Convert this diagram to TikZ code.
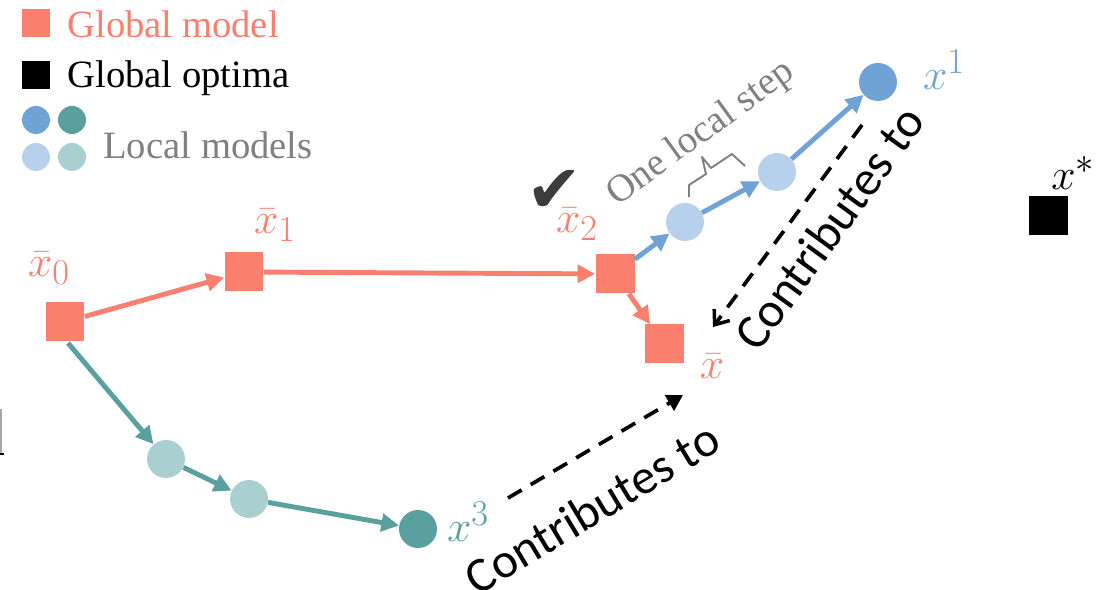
\documentclass[tikz,border=0pt]{standalone}
\usepackage{fontspec}
\setmainfont{Liberation Serif}
\newfontfamily\calib{Carlito}
\newfontfamily\symfont{DejaVu Sans}
\usetikzlibrary{arrows.meta,calc}

\definecolor{salmon}{HTML}{FA7F6F}
\definecolor{dblue}{HTML}{6FA3D6}
\definecolor{lblue}{HTML}{B7D1EC}
\definecolor{dteal}{HTML}{5AA09F}
\definecolor{lteal}{HTML}{AACFD0}
\definecolor{txtgray}{HTML}{808080}
\definecolor{checkgray}{HTML}{3C3C3C}

\tikzset{
  gsq/.style={fill=salmon, minimum size=0.78cm, inner sep=0pt},
  osq/.style={fill=black, minimum size=0.78cm, inner sep=0pt},
  lsq/.style={minimum size=0.56cm, inner sep=0pt},
  ldot/.style={circle, minimum size=0.56cm, inner sep=0pt},
  mdot/.style={circle, minimum size=0.76cm, inner sep=0pt},
  legtxt/.style={anchor=west, inner sep=0pt, font=\fontsize{22}{26}\selectfont},
  mlabel/.style={inner sep=0pt, font=\fontsize{28}{32}\selectfont},
  ctxt/.style={inner sep=0pt, font=\calib\fontsize{28}{32}\selectfont},
  harrow/.style={line width=2.8pt, -{Triangle[length=10pt,width=10pt]}},
  garrow/.style={harrow, draw=salmon},
  barrow/.style={harrow, draw=dblue},
  tarrow/.style={harrow, draw=dteal},
  dasharrow/.style={line width=2.1pt, dash pattern=on 9pt off 6pt},
}

\begin{document}
\begin{tikzpicture}[x=0.02cm, y=-0.02cm]
  \useasboundingbox (0,0) rectangle (1119,590);

  % legend
  \node[lsq, fill=salmon] (legG) at (36,23) {};
  \node[legtxt, text=salmon] (legGt) at (67,24) {Global model};
  \node[lsq, fill=black] (legO) at (36,75) {};
  \node[legtxt] (legOt) at (67,78) {Global optima};
  \node[ldot, fill=dblue] (legB1) at (36,120) {};
  \node[ldot, fill=dteal] (legT1) at (72,120) {};
  \node[ldot, fill=lblue] (legB2) at (36,157) {};
  \node[ldot, fill=lteal] (legT2) at (72,157) {};
  \node[legtxt, text=txtgray] (legLt) at (103,145) {Local models};

  % global models
  \node[gsq] (x0) at (65,322) {};
  \node[gsq] (x1) at (244,272) {};
  \node[gsq] (x2) at (615,274) {};
  \node[gsq] (xb) at (664,344) {};
  \node[osq] (xs) at (1048,216) {};

  \node[mlabel, text=salmon] (lx0) at (49,268) {$\bar{x}_0$};
  \node[mlabel, text=salmon] (lx1) at (275,225) {$\bar{x}_1$};
  \node[mlabel, text=salmon] (lx2) at (577,224) {$\bar{x}_2$};
  \node[mlabel, text=salmon] (lxb) at (712,366) {$\bar{x}$};
  \node[mlabel] (lxs) at (1073,173) {$x^*$};

  \node[inner sep=0pt, text=checkgray, font=\symfont\fontsize{38}{42}\selectfont] (chk) at (554,191) {✔};

  % local models of client 1
  \node[mdot, fill=lblue] (b1) at (685,222) {};
  \node[mdot, fill=lblue] (b2) at (777,172) {};
  \node[mdot, fill=dblue] (b3) at (878,82) {};
  \node[mlabel, text=dblue] (lb3) at (944,70) {$x^1$};

  % local models of client 3
  \node[mdot, fill=lteal] (t1) at (166,459) {};
  \node[mdot, fill=lteal] (t2) at (249,499) {};
  \node[mdot, fill=dteal] (t3) at (418,529) {};
  \node[mlabel, text=dteal] (lt3) at (468,522) {$x^3$};

  % global trajectory
  \draw[garrow] (x0) -- (x1);
  \draw[garrow] (x1) -- (x2);
  \draw[garrow] (x2) -- (xb);

  % client 1 trajectory
  \draw[barrow] (x2) -- (b1);
  \draw[barrow] (b1) -- (b2);
  \draw[barrow] (b2) -- (b3);

  % client 3 trajectory
  \coordinate (x0s) at (68,343);
  \draw[tarrow] (x0s) -- (t1);
  \draw[tarrow] (t1) -- (t2);
  \draw[tarrow] (t2) -- (t3);

  % one local step bracket
  \draw[txtgray, line width=1.1pt, line join=round]
    (689,197) -- (689,185) -- (706,174) -- (702,157) -- (711,168) -- (732,154) -- (745,166);
  \node[inner sep=0pt, text=txtgray, rotate=36, font=\fontsize{22}{26}\selectfont] (step) at (701,134) {One local step};

  % aggregation arrows
  \coordinate (c1s) at (862,125);
  \coordinate (c1e) at (713,327);
  \coordinate (c3s) at (508,498);
  \coordinate (c3e) at (683,395);
  \draw[dasharrow, -{Straight Barb[length=7pt,width=11pt,line width=2pt]}] (c1s) -- (c1e);
  \draw[dasharrow, -{Triangle[length=9pt,width=10pt]}] (c3s) -- (c3e);
  \node[ctxt, rotate=54] (ct1) at (829,228) {Contributes to};
  \node[ctxt, rotate=31] (ct3) at (592,508) {Contributes to};

  % edge fragment
  \draw[gray!70, line width=0.6pt] (1,409) -- (1,453);
  \draw[line width=1pt] (0,454) -- (4,454);
\end{tikzpicture}
\end{document}
